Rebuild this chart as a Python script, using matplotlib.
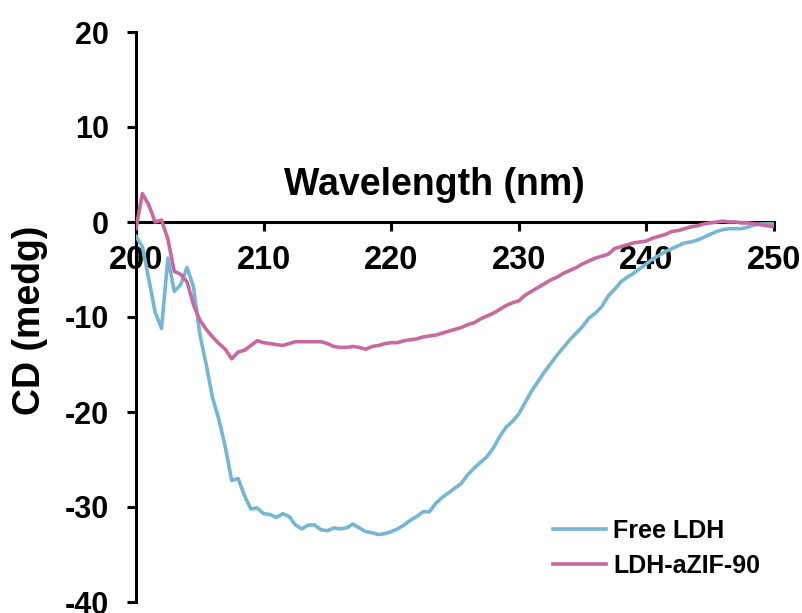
import matplotlib
matplotlib.use("Agg")
import matplotlib.pyplot as plt

plt.rcParams['font.family'] = ['Liberation Sans', 'DejaVu Sans']
plt.rcParams['font.weight'] = 'bold'
plt.rcParams['axes.unicode_minus'] = False

wavelength = [200.0, 200.5, 201.0, 201.5, 202.0, 202.5, 203.0, 203.5, 204.0, 204.5,
              205.0, 205.5, 206.0, 206.5, 207.0, 207.5, 208.0, 208.5, 209.0, 209.5,
              210.0, 210.5, 211.0, 211.5, 212.0, 212.5, 213.0, 213.5, 214.0, 214.5,
              215.0, 215.5, 216.0, 216.5, 217.0, 217.5, 218.0, 218.5, 219.0, 219.5,
              220.0, 220.5, 221.0, 221.5, 222.0, 222.5, 223.0, 223.5, 224.0, 224.5,
              225.0, 225.5, 226.0, 226.5, 227.0, 227.5, 228.0, 228.5, 229.0, 229.5,
              230.0, 230.5, 231.0, 231.5, 232.0, 232.5, 233.0, 233.5, 234.0, 234.5,
              235.0, 235.5, 236.0, 236.5, 237.0, 237.5, 238.0, 238.5, 239.0, 239.5,
              240.0, 240.5, 241.0, 241.5, 242.0, 242.5, 243.0, 243.5, 244.0, 244.5,
              245.0, 245.5, 246.0, 246.5, 247.0, 247.5, 248.0, 248.5, 249.0, 249.5,
              250.0]

free_ldh = [-1.5, -2.6, -6.0, -9.5, -11.2, -3.8, -7.3, -6.6, -4.8, -6.8,
            -11.8, -15.0, -18.5, -20.8, -23.7, -27.2, -27.0, -28.8, -30.2, -30.1,
            -30.7, -30.8, -31.1, -30.7, -31.0, -31.9, -32.3, -31.9, -31.9, -32.4,
            -32.5, -32.2, -32.3, -32.2, -31.8, -32.2, -32.6, -32.7, -32.9, -32.8,
            -32.6, -32.3, -31.9, -31.4, -31.0, -30.5, -30.5, -29.6, -29.0, -28.5,
            -28.0, -27.5, -26.6, -25.9, -25.3, -24.7, -23.8, -22.6, -21.6, -21.0,
            -20.2, -19.0, -17.8, -16.8, -15.8, -14.9, -14.0, -13.2, -12.4, -11.7,
            -11.0, -10.1, -9.6, -8.9, -7.8, -7.1, -6.3, -5.8, -5.4, -4.9,
            -4.4, -3.9, -3.5, -3.1, -2.8, -2.5, -2.2, -2.1, -1.9, -1.6,
            -1.3, -1.0, -0.8, -0.7, -0.7, -0.7, -0.5, -0.3, -0.2, -0.2,
            -0.2]

ldh_azif90 = [-0.7, 3.0, 1.8, 0.0, 0.2, -1.8, -5.2, -5.5, -6.3, -8.7,
              -10.3, -11.3, -12.1, -12.8, -13.4, -14.4, -13.7, -13.5, -13.0, -12.5,
              -12.7, -12.8, -12.9, -13.0, -12.8, -12.6, -12.6, -12.6, -12.6, -12.6,
              -12.8, -13.1, -13.2, -13.2, -13.1, -13.2, -13.4, -13.1, -13.0, -12.8,
              -12.7, -12.7, -12.5, -12.4, -12.3, -12.1, -12.0, -11.9, -11.7, -11.5,
              -11.3, -11.1, -10.8, -10.6, -10.2, -9.9, -9.6, -9.2, -8.8, -8.5,
              -8.3, -7.7, -7.3, -6.9, -6.5, -6.1, -5.8, -5.4, -5.1, -4.8,
              -4.4, -4.1, -3.8, -3.6, -3.4, -2.8, -2.6, -2.4, -2.2, -2.1,
              -2.0, -1.7, -1.5, -1.3, -1.0, -0.9, -0.7, -0.5, -0.4, -0.2,
              -0.1, 0.0, 0.1, 0.0, 0.0, -0.1, -0.1, -0.2, -0.3, -0.4,
              -0.5]

series_names = ["Free LDH", "LDH-aZIF-90"]
x_ticks = [200, 210, 220, 230, 240, 250]
y_ticks = [-40, -30, -20, -10, 0, 10, 20]

fig = plt.figure(figsize=(8.02, 6.13), dpi=100)
ax = fig.add_axes([136/802, 11/613, 638/802, 570/613])

ax.plot(wavelength, free_ldh, color='#74B6D3', lw=2.6, label=series_names[0])
ax.plot(wavelength, ldh_azif90, color='#C8689F', lw=2.6, label=series_names[1])

ax.set_xlim(200, 250)
ax.set_ylim(-40, 20)
ax.set_xticks(x_ticks)
ax.set_yticks(y_ticks)

ax.spines['top'].set_visible(False)
ax.spines['right'].set_visible(False)
ax.spines['bottom'].set_position(('data', 0))
for s in ['left', 'bottom']:
    ax.spines[s].set_linewidth(2.2)
    ax.spines[s].set_zorder(1)

ax.tick_params(axis='both', direction='out', length=6.5, width=2.2)
ax.tick_params(axis='x', pad=10, labelsize=23.5)
ax.tick_params(axis='y', pad=13, labelsize=22)
for lab in ax.get_xticklabels() + ax.get_yticklabels():
    lab.set_fontweight('bold')

ax.text(0.467, 0.732, "Wavelength (nm)", transform=ax.transAxes, ha='center', va='center',
        fontsize=27, fontweight='bold')
ax.text(-0.166, 0.495, "CD (medg)", transform=ax.transAxes, ha='center', va='center',
        rotation=90, fontsize=27, fontweight='bold')

leg = ax.legend(loc='upper left', bbox_to_anchor=(0.654, 0.146), frameon=False,
                fontsize=18, handlelength=2.1, handletextpad=0.3, borderpad=0,
                borderaxespad=0, labelspacing=0.45)
for t in leg.get_texts():
    t.set_fontweight('bold')

fig.savefig("out.png", dpi=100)
